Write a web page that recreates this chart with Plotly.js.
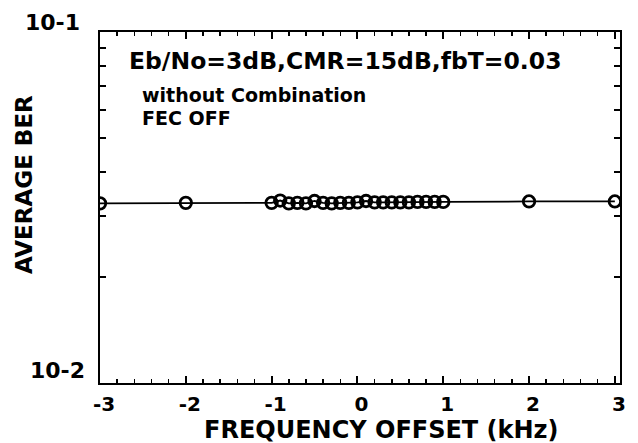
<!DOCTYPE html>
<html>
<head>
<meta charset="utf-8">
<script src="https://cdn.plot.ly/plotly-3.0.1.min.js"></script>
<style>html,body{margin:0;padding:0;background:#fff;}#chart{width:638px;height:443px;}</style>
</head>
<body>
<div id="chart"></div>
<script>
// Data
const freqOffset = [-3, -2, -1.0, -0.9, -0.8, -0.7, -0.6, -0.5, -0.4, -0.3, -0.2, -0.1, 0.0, 0.1, 0.2, 0.3, 0.4, 0.5, 0.6, 0.7, 0.8, 0.9, 1.0, 2, 3];
const avgBer = [0.0325, 0.0326, 0.0326, 0.0331, 0.0325, 0.0326, 0.0325, 0.0330, 0.0326, 0.0325, 0.0326, 0.0326, 0.0327, 0.0330, 0.0327, 0.0327, 0.0327, 0.0327, 0.0327, 0.0328, 0.0328, 0.0328, 0.0328, 0.0329, 0.0329];
const xTickVals = [-3, -2, -1, 0, 1, 2, 3];
const xTickText = ['-3', '-2', '-1', '0', '1', '2', '3'];
const yMinorVals = [0.02, 0.03, 0.04, 0.05, 0.06, 0.07, 0.08, 0.09];
const yDecadeVals = [-2, -1];
const yDecadeText = ['10-2', '10-1'];
const xTitle = 'FREQUENCY OFFSET (kHz)';
const yTitle = 'AVERAGE BER';
const infoLines = ['Eb/No=3dB,CMR=15dB,fbT=0.03', 'without Combination', 'FEC OFF'];

const FONT = 'DejaVu Sans, Arial, sans-serif';
const PL = 100, PR = 620, PT = 32, PB = 383; // plot box in px
const px2x = p => (p - PL) / (PR - PL);
const px2y = p => (PB - p) / (PB - PT);

const trace = {
  x: freqOffset, y: avgBer, type: 'scatter', mode: 'lines+markers',
  line: {color: '#000', width: 1.8},
  marker: {symbol: 'circle-open', size: 11.5, color: '#000', line: {width: 2.8, color: '#000'}},
  showlegend: false, hoverinfo: 'skip'
};
// invisible companion trace that anchors the mirrored top/right tick axes
const ghost = {
  x: freqOffset, y: avgBer, xaxis: 'x2', yaxis: 'y2', type: 'scatter', mode: 'markers',
  marker: {opacity: 0}, showlegend: false, hoverinfo: 'skip'
};

const bold = (size) => ({family: FONT, size: size, color: '#000', weight: 'bold'});
const annotations = [];
const decadeX = [57, 52];
const decadeShift = [13, 10];
yDecadeVals.forEach((v, i) => {
  annotations.push({xref: 'paper', yref: 'y', x: px2x(decadeX[i]), y: v, xanchor: 'center', yanchor: 'middle',
    yshift: decadeShift[i], text: yDecadeText[i], showarrow: false, font: bold(22)});
});
const infoXpx = [127, 140, 140];
const infoYpx = [61, 95, 118];
const infoSize = [23.5, 19, 19];
infoLines.forEach((t, i) => {
  annotations.push({xref: 'paper', yref: 'paper', x: px2x(infoXpx[i]), y: px2y(infoYpx[i]), xanchor: 'left', yanchor: 'middle',
    text: t, showarrow: false, font: bold(infoSize[i])});
});
// axis titles (placed as in the reference, slightly off-centre)
annotations.push({xref: 'paper', yref: 'paper', x: px2x(381), y: px2y(430), xanchor: 'center', yanchor: 'middle',
  text: xTitle, showarrow: false, font: bold(24)});
annotations.push({xref: 'paper', yref: 'paper', x: px2x(24), y: px2y(185), xanchor: 'center', yanchor: 'middle',
  text: yTitle, textangle: -90, showarrow: false, font: bold(23)});

const xCommon = {
  range: [-3, 3.06], tickvals: xTickVals,
  ticks: 'inside', ticklen: 7, tickwidth: 2, tickcolor: '#000',
  minor: {dtick: 0.2, tick0: 0, ticks: 'inside', ticklen: 4, tickwidth: 1.5, tickcolor: '#000', showgrid: false},
  showline: true, linewidth: 2, linecolor: '#000',
  showgrid: false, zeroline: false
};
const yCommon = {
  type: 'log', range: [-2, -1], tickvals: yMinorVals,
  ticks: 'inside', ticklen: 6, tickwidth: 2, tickcolor: '#000',
  showline: true, linewidth: 2, linecolor: '#000',
  showgrid: false, zeroline: false
};

const layout = {
  width: 638, height: 443,
  margin: {l: PL, r: 638 - PR, t: PT, b: 443 - PB},
  paper_bgcolor: '#fff', plot_bgcolor: '#fff',
  font: {family: FONT, color: '#000'},
  xaxis: Object.assign({}, xCommon, {
    ticktext: xTickText, ticklabelstandoff: 2, ticklabelshift: 4,
    tickfont: bold(20)
  }),
  xaxis2: Object.assign({}, xCommon, {overlaying: 'x', side: 'top', anchor: 'y', showticklabels: false}),
  yaxis: Object.assign({}, yCommon, {showticklabels: false}),
  yaxis2: Object.assign({}, yCommon, {overlaying: 'y', side: 'right', anchor: 'x', showticklabels: false}),
  annotations: annotations
};

Plotly.newPlot('chart', [trace, ghost], layout, {staticPlot: true, displayModeBar: false});
</script>
</body>
</html>
